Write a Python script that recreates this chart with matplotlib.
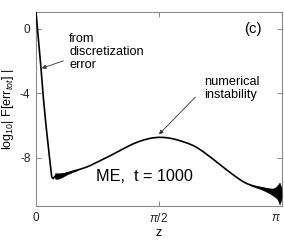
import numpy as np
import matplotlib
matplotlib.use("Agg")
import matplotlib.pyplot as plt

plt.rcParams['font.family'] = ['Liberation Sans', 'DejaVu Sans']
plt.rcParams['mathtext.fontset'] = 'custom'
plt.rcParams['mathtext.rm'] = 'Liberation Sans'
plt.rcParams['mathtext.it'] = 'Liberation Sans:italic'

# z in units of pi, log10 |F[err_tot]|
z_frac = [0.000, 0.010, 0.020, 0.030, 0.040, 0.050, 0.058, 0.064, 0.070, 0.075,
          0.080, 0.084, 0.090, 0.100, 0.120, 0.140, 0.160, 0.180, 0.200, 0.220,
          0.240, 0.260, 0.280, 0.300, 0.320, 0.340, 0.360, 0.380, 0.400, 0.420,
          0.440, 0.460, 0.480, 0.500, 0.520, 0.540, 0.560, 0.580, 0.600, 0.620,
          0.640, 0.660, 0.680, 0.700, 0.720, 0.740, 0.760, 0.780, 0.800, 0.820,
          0.840, 0.860, 0.880, 0.900, 0.920, 0.940, 0.960, 0.980, 1.000]
log_err = [1.00, -0.70, -2.40, -4.30, -5.90, -7.30, -8.40, -9.20, -9.30, -9.20,
           -9.12, -9.28, -9.15, -9.10, -9.00, -8.90, -8.80, -8.72, -8.62, -8.50,
           -8.35, -8.20, -8.05, -7.90, -7.74, -7.58, -7.42, -7.26, -7.12, -7.00,
           -6.90, -6.82, -6.77, -6.74, -6.75, -6.78, -6.84, -6.92, -7.02, -7.12,
           -7.25, -7.42, -7.62, -7.85, -8.08, -8.32, -8.56, -8.80, -9.03, -9.25,
           -9.46, -9.62, -9.73, -9.81, -9.88, -9.97, -10.06, -10.15, -10.25]

# noise envelope (early wedge and late band)
noise1_z = [0.078, 0.085, 0.095, 0.110, 0.125, 0.140, 0.155, 0.170]
noise1_lo = [-9.30, -9.32, -9.28, -9.18, -9.05, -8.95, -8.86, -8.77]
noise1_hi = [-8.95, -8.98, -8.97, -8.95, -8.90, -8.84, -8.80, -8.74]

noise2_z = [0.870, 0.890, 0.910, 0.930, 0.950, 0.965, 0.975, 0.985, 0.992, 0.997, 1.000]
noise2_lo = [-9.70, -9.82, -9.92, -10.05, -10.20, -10.35, -10.45, -10.60, -10.90, -10.70, -10.50]
noise2_hi = [-9.66, -9.75, -9.80, -9.85, -9.90, -9.92, -9.85, -9.70, -9.55, -9.75, -9.90]

x_ticks_frac = [0.0, 0.5, 1.0]
x_tick_labels = ['0', r'$\pi$/2', r'$\pi$']
y_ticks = [0, -4, -8]
y_tick_labels = ['0', '-4', '-8']

fig = plt.figure(figsize=(2.84, 2.40), dpi=100)
ax = fig.add_axes([0.1268, 0.1417, 0.8644, 0.8063])

z = np.array(z_frac) * np.pi
ax.plot(z, log_err, color='black', lw=1.2, zorder=3)
ax.fill_between(np.array(noise1_z) * np.pi, noise1_lo, noise1_hi,
                color='black', lw=0.4, zorder=3)
ax.fill_between(np.array(noise2_z) * np.pi, noise2_lo, noise2_hi,
                color='black', lw=0.4, zorder=3)

ax.set_xlim(0, np.pi)
ax.set_ylim(-11, 1)
ax.set_xticks(np.array(x_ticks_frac) * np.pi)
ax.set_xticklabels(x_tick_labels)
ax.set_yticks(y_ticks)
ax.set_yticklabels(y_tick_labels)
ax.tick_params(direction='in', length=3.5, width=0.7, color='#888888',
               labelsize=8.5, labelcolor='#222222', top=True, right=True, pad=4)
ax.get_xticklabels()[-1].set_horizontalalignment('right')
for s in ax.spines.values():
    s.set_color('#8a8a8a')
    s.set_linewidth(0.8)

ax.set_xlabel('z', fontsize=9, labelpad=2)
ax.set_ylabel(r'log$_{10}$| F[err$_{tot}$] |', fontsize=9, labelpad=3)

ax.text(0.423, -0.25, 'from\ndiscretization\nerror', fontsize=9.2,
        ha='left', va='top', linespacing=1.15)
ax.text(2.155, -2.94, 'numerical\ninstability', fontsize=9.2,
        ha='left', va='top', linespacing=1.15)
ax.text(0.769, -9.44, 'ME,  t = 1000', fontsize=11.7, ha='left', va='baseline')
ax.text(2.664, -0.29, '(c)', fontsize=10.7, ha='left', va='baseline')

arrow = dict(arrowstyle='-|>', color='#333333', lw=0.6, mutation_scale=6,
             shrinkA=0, shrinkB=0)
ax.annotate('', xy=(0.0731, -2.46), xytext=(0.350, -2.0), arrowprops=arrow)
ax.annotate('', xy=(1.573, -6.56), xytext=(2.039, -4.25), arrowprops=arrow)

fig.savefig('out.png', dpi=100)
